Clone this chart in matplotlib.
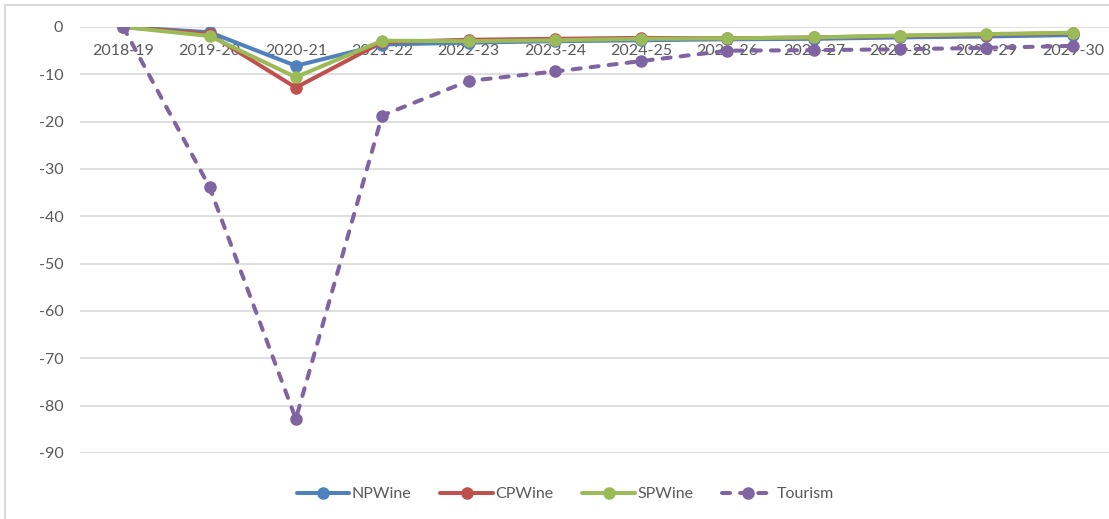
import numpy as np
import matplotlib.pyplot as plt
from matplotlib.patches import Rectangle

# Años de la proyección
years = ['2018-19', '2019-20', '2020-21', '2021-22', '2022-23', '2023-24',
         '2024-25', '2025-26', '2026-27', '2027-28', '2028-29', '2029-30']

# Variación (%) respecto al escenario base
np_wine = [0, -1.1, -8.2, -3.7, -3.3, -3.0, -2.8, -2.6, -2.5, -2.2, -2.0, -1.7]
cp_wine = [0, -1.5, -12.8, -3.2, -2.7, -2.5, -2.3, -2.4, -2.2, -1.9, -1.6, -1.3]
sp_wine = [0, -1.9, -10.6, -2.9, -3.0, -2.8, -2.5, -2.4, -2.2, -1.8, -1.5, -1.2]
tourism = [0, -33.8, -82.8, -18.7, -11.4, -9.4, -7.2, -5.0, -4.9, -4.7, -4.4, -4.0]

plt.rcParams['font.family'] = ['Lato', 'DejaVu Sans']
plt.rcParams['axes.unicode_minus'] = False

W, H = 1109, 519
fig = plt.figure(figsize=(W / 100, H / 100), dpi=100)

# marco gris del gráfico
fig.patches.append(Rectangle((5 / W, -0.1), 1.2, (H - 5) / H + 0.1,
                             transform=fig.transFigure, fill=False,
                             edgecolor='#D9D9D9', linewidth=1.5))

ax = fig.add_axes([80 / W, 66 / H, 1036 / W, 426 / H])
x = np.arange(len(years))

series = [
    (np_wine, 'NPWine', '#4F81BD', '-'),
    (cp_wine, 'CPWine', '#C0504D', '-'),
    (sp_wine, 'SPWine', '#9BBB59', '-'),
    (tourism, 'Tourism', '#8064A2', '--'),
]
for vals, name, col, ls in series:
    line, = ax.plot(x, vals, linestyle=ls, color=col, linewidth=2.9, marker='o',
                    markersize=8, label=name, solid_capstyle='round',
                    solid_joinstyle='round', dash_capstyle='round')
    if ls == '--':
        line.set_dashes((2, 2.5))

ax.set_xlim(-0.5, len(years) - 0.5)
ax.set_ylim(-90, 0)
ax.set_yticks(np.arange(-90, 1, 10))
ax.set_xticks(x)
ax.set_xticklabels(years)
ax.yaxis.grid(True, color='#D9D9D9', linewidth=1.2)
ax.set_axisbelow(True)
for s in ['top', 'right', 'left']:
    ax.spines[s].set_visible(False)
ax.spines['bottom'].set_position(('data', 0))
ax.spines['bottom'].set_visible(False)
ax.tick_params(axis='both', length=0, labelsize=11.5, labelcolor='#595959')
ax.tick_params(axis='x', pad=12)
ax.tick_params(axis='y', pad=12)

fig.legend(loc='center', bbox_to_anchor=(0.51, 0.048), ncol=4, frameon=False,
           fontsize=11.5, labelcolor='#595959', handlelength=3.3,
           columnspacing=1.8, handletextpad=0.15)

fig.savefig('out.png', dpi=100)
